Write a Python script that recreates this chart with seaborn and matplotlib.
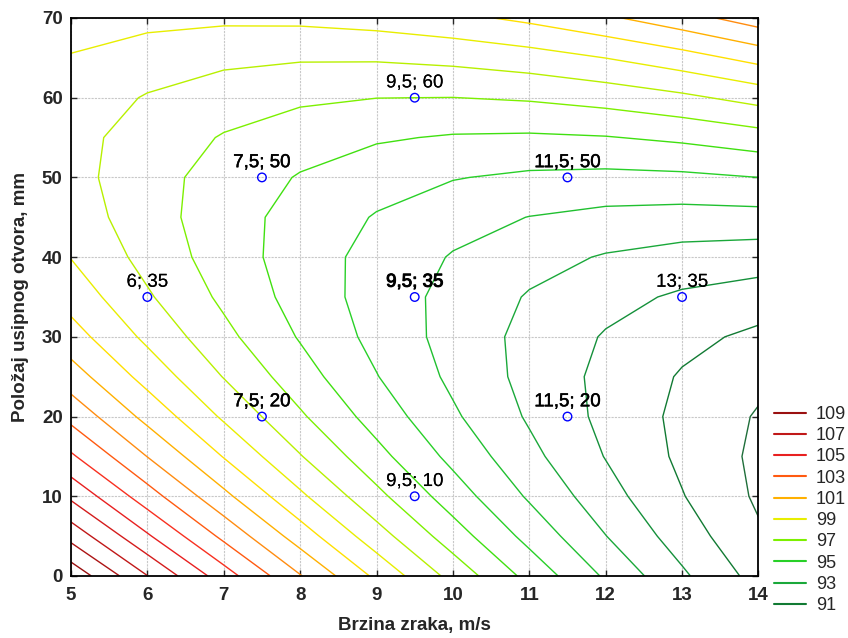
import numpy as np
import matplotlib.pyplot as plt
import matplotlib.patheffects as pe
from matplotlib.lines import Line2D
import seaborn as sns

# air speed (m/s) and outlet position (mm) grid, response
speed = [5, 6, 7, 8, 9, 10, 11, 12, 13, 14]
position = [0, 5, 10, 15, 20, 25, 30, 35, 40, 45, 50, 55, 60, 65, 70]
response = [
    [109.72, 107.02, 104.47, 102.06, 99.79, 97.67, 95.69, 93.86, 92.17, 90.62],
    [107.66, 105.13, 102.76, 100.52, 98.43, 96.48, 94.68, 93.02, 91.51, 90.14],
    [105.80, 103.45, 101.25, 99.19, 97.27, 95.50, 93.87, 92.39, 91.05, 89.85],
    [104.15, 101.98, 99.95, 98.06, 96.32, 94.73, 93.27, 91.96, 90.80, 89.78],
    [102.70, 100.70, 98.85, 97.14, 95.58, 94.15, 92.88, 91.74, 90.75, 89.91],
    [101.46, 99.64, 97.96, 96.43, 95.04, 93.79, 92.69, 91.73, 90.91, 90.24],
    [100.42, 98.78, 97.27, 95.92, 94.70, 93.63, 92.70, 91.92, 91.28, 90.78],
    [99.60, 98.12, 96.80, 95.61, 94.57, 93.68, 92.92, 92.32, 91.85, 91.53],
    [98.97, 97.67, 96.52, 95.51, 94.65, 93.93, 93.35, 92.92, 92.63, 92.48],
    [98.55, 97.43, 96.45, 95.62, 94.93, 94.38, 93.98, 93.72, 93.61, 93.64],
    [98.34, 97.39, 96.59, 95.93, 95.42, 95.05, 94.82, 94.74, 94.80, 95.00],
    [98.33, 97.56, 96.93, 96.45, 96.11, 95.91, 95.86, 95.95, 96.19, 96.57],
    [98.53, 97.93, 97.48, 97.17, 97.01, 96.99, 97.11, 97.38, 97.79, 98.35],
    [98.93, 98.51, 98.23, 98.10, 98.11, 98.27, 98.56, 99.01, 99.59, 100.33],
    [99.54, 99.29, 99.19, 99.23, 99.42, 99.75, 100.22, 100.84, 101.60, 102.51],
]

levels = list(range(90, 110))
level_colors = ['#1f6e3a', '#117a33', '#14903a', '#1aa83a', '#20c030',
                '#28d028', '#40e010', '#7cf000', '#b8f000', '#e8ee00',
                '#ffe000', '#ffb000', '#ff8c10', '#ff5a10', '#f83020',
                '#e82020', '#d41c1c', '#c01818', '#ac1414', '#9a1010']
legend_levels = [109, 107, 105, 103, 101, 99, 97, 95, 93, 91]

# design points
design_x = [9.5, 7.5, 11.5, 6, 9.5, 13, 7.5, 11.5, 9.5]
design_y = [60, 50, 50, 35, 35, 35, 20, 20, 10]
design_labels = ['9,5; 60', '7,5; 50', '11,5; 50', '6; 35', '9,5; 35',
                 '13; 35', '7,5; 20', '11,5; 20', '9,5; 10']
design_reps = [1, 2, 2, 1, 3, 1, 2, 2, 1]

sns.set_style('ticks')
plt.rcParams['font.family'] = ['Liberation Sans', 'DejaVu Sans']

fig = plt.figure(figsize=(8.48, 6.38), dpi=100)
ax = fig.add_axes([0.0837, 0.0972, 0.8107, 0.8746])

ax.grid(True, color='#c8c8c8', linestyle=(0, (2, 1)), linewidth=0.8)
ax.set_axisbelow(True)

ax.contour(speed, position, np.array(response), levels=levels,
           colors=level_colors, linewidths=1.0, zorder=2)

sns.scatterplot(x=design_x, y=design_y, ax=ax, marker='o', s=38,
                facecolors='none', edgecolor='#0000ff', linewidth=1.0,
                zorder=5, legend=False)

for x, y, lab, r in zip(design_x, design_y, design_labels, design_reps):
    ax.annotate(lab, (x, y), xytext=(0, 4.5), textcoords='offset points',
                ha='center', va='bottom', fontsize=13.5, color='black', zorder=6,
                path_effects=[pe.withStroke(linewidth=0.35 * (r - 1), foreground='black')])

ax.set_xlim(5, 14)
ax.set_ylim(0, 70)
ax.set_xticks(range(5, 15))
ax.set_yticks(range(0, 71, 10))
ax.tick_params(direction='in', length=4, width=1, top=True, right=True,
               labelsize=13.5)
ax.tick_params(axis='x', pad=8)
ax.tick_params(axis='y', pad=6)
for lbl in ax.get_xticklabels() + ax.get_yticklabels():
    lbl.set_fontweight('bold')
for sp in ax.spines.values():
    sp.set_linewidth(1.3)
    sp.set_color('black')

ax.set_xlabel('Brzina zraka, m/s', fontsize=13.5, fontweight='bold', labelpad=9)
ax.set_ylabel('Položaj usipnog otvora, mm', fontsize=13.5, fontweight='bold', labelpad=9)

handles = [Line2D([], [], color=level_colors[levels.index(v)], linewidth=1.5)
           for v in legend_levels]
fig.legend(handles, [str(v) for v in legend_levels], loc='lower left',
           bbox_to_anchor=(0.894, 0.012), frameon=False, fontsize=13,
           handlelength=1.75, labelspacing=0.235, handletextpad=0.55)

fig.savefig('out.png', dpi=100)
